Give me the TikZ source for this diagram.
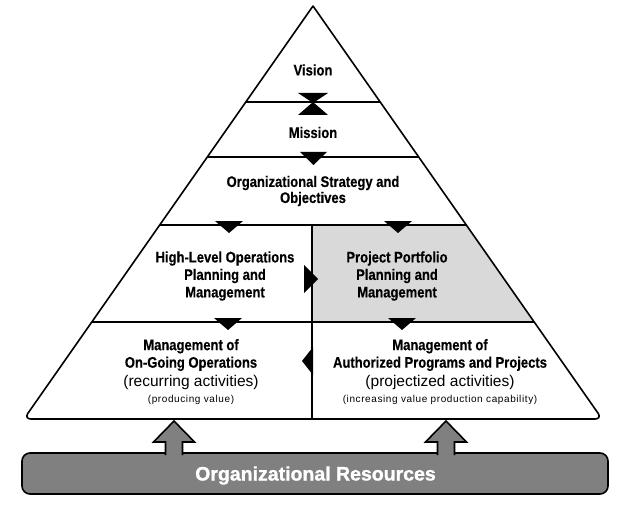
\documentclass[tikz,border=0pt]{standalone}
\usepackage{fontspec}
\setmainfont{Liberation Sans}
\newfontfamily\pyrfont[FakeStretch=0.85,BoldFeatures={FakeBold=0.4}]{Liberation Sans}
\newfontfamily\pyrsmallfont[LetterSpace=6]{Liberation Sans}
\newfontfamily\pyrheavyfont[BoldFeatures={FakeBold=1.2}]{Liberation Sans}
\definecolor{pyramidcolor0001}{RGB}{217,217,217}
\definecolor{pyramidcolor0002}{RGB}{128,128,128}

\begin{document}
\begin{tikzpicture}[yscale=-1
,pstyle0/.style={color=black,line width=1.6pt,line cap=round}
,pstyle1/.style={color=black,line width=1.4pt}
,pstyle2/.style={fill=black}
,pstyle3/.style={color=black,fill=pyramidcolor0002,line width=1.6pt}
,tstyle0/.style={align=center,inner sep=0pt,font=\pyrfont\bfseries\fontsize{15.3pt}{17.5pt}\selectfont}
,tstyle1/.style={align=center,inner sep=0pt,font=\fontsize{15.5pt}{18pt}\selectfont}
,tstyle2/.style={align=center,inner sep=0pt,font=\pyrsmallfont\fontsize{10pt}{12pt}\selectfont}
,tstyle3/.style={inner sep=0pt,color=white,font=\pyrheavyfont\bfseries\fontsize{19.5pt}{22pt}\selectfont}
]
\useasboundingbox (0pt,0pt) rectangle (642pt,513pt);
% shaded portfolio cell
\fill[pyramidcolor0001] (312pt,225pt) -- (466.3pt,225pt) -- (534.2pt,322pt) -- (312pt,322pt) -- cycle;
% pyramid outline and levels
\draw[pstyle0,rounded corners=7pt] (313pt,6pt) -- (23.9pt,419pt) -- (602.1pt,419pt) -- (313pt,6pt);
\draw[pstyle1] (245.8pt,102pt) -- (380.2pt,102pt);
\draw[pstyle1] (207.3pt,157pt) -- (418.7pt,157pt);
\draw[pstyle1] (159.7pt,225pt) -- (466.3pt,225pt);
\draw[pstyle1] (91.8pt,322pt) -- (534.2pt,322pt);
\draw[pstyle1] (312pt,225pt) -- (312pt,419pt);
% flow markers
\fill[pstyle2] (298pt,93pt) -- (328pt,93pt) -- (313pt,103pt) -- cycle;
\fill[pstyle2] (313pt,102pt) -- (328pt,115pt) -- (298pt,115pt) -- cycle;
\fill[pstyle2] (300pt,152pt) -- (327pt,152pt) -- (313.5pt,165pt) -- cycle;
\fill[pstyle2] (215pt,221pt) -- (243pt,221pt) -- (229pt,233pt) -- cycle;
\fill[pstyle2] (384pt,221pt) -- (412pt,221pt) -- (398pt,233pt) -- cycle;
\fill[pstyle2] (304pt,265pt) -- (318pt,279pt) -- (304pt,293pt) -- cycle;
\fill[pstyle2] (214pt,318pt) -- (242pt,318pt) -- (228pt,330pt) -- cycle;
\fill[pstyle2] (388pt,318pt) -- (416pt,318pt) -- (402pt,330pt) -- cycle;
\fill[pstyle2] (313pt,347pt) -- (302pt,361pt) -- (313pt,375pt) -- cycle;
% level texts
\node[tstyle0] (vision) at (313pt,70pt) {Vision};
\node[tstyle0] (mission) at (313pt,132.5pt) {Mission};
\node[tstyle0,font=\pyrfont\bfseries\fontsize{15.3pt}{16pt}\selectfont] (strategy) at (313pt,191pt) {Organizational Strategy and\\Objectives};
\node[tstyle0] (hlops) at (225pt,276pt) {High-Level Operations\\Planning and\\Management};
\node[tstyle0] (portfolio) at (397pt,276pt) {Project Portfolio\\Planning and\\Management};
\node[tstyle0] (ongoing) at (191pt,355pt) {Management of\\On-Going Operations};
\node[tstyle1] (ongoingact) at (191pt,382pt) {(recurring activities)};
\node[tstyle2] (ongoingval) at (191pt,400pt) {(producing value)};
\node[tstyle0] (authorized) at (440pt,355pt) {Management of\\Authorized Programs and Projects};
\node[tstyle1] (authorizedact) at (440pt,382pt) {(projectized activities)};
\node[tstyle2] (authorizedval) at (440pt,400pt) {(increasing value production capability)};
% resources bar and its two arrows
\draw[pstyle3,rounded corners=8pt] (22pt,453pt) rectangle (608pt,494pt);
\draw[pstyle3,line join=miter] (165.5pt,455pt) -- (165.5pt,442pt) -- (153.5pt,442pt) -- (174pt,421pt) -- (194.5pt,442pt) -- (182.5pt,442pt) -- (182.5pt,455pt);
\draw[pstyle3,line join=miter] (437.5pt,455pt) -- (437.5pt,442pt) -- (425.5pt,442pt) -- (446pt,421pt) -- (466.5pt,442pt) -- (454.5pt,442pt) -- (454.5pt,455pt);
\node[tstyle3] (resources) at (315.5pt,475.5pt) {Organizational Resources};
\end{tikzpicture}
\end{document}
